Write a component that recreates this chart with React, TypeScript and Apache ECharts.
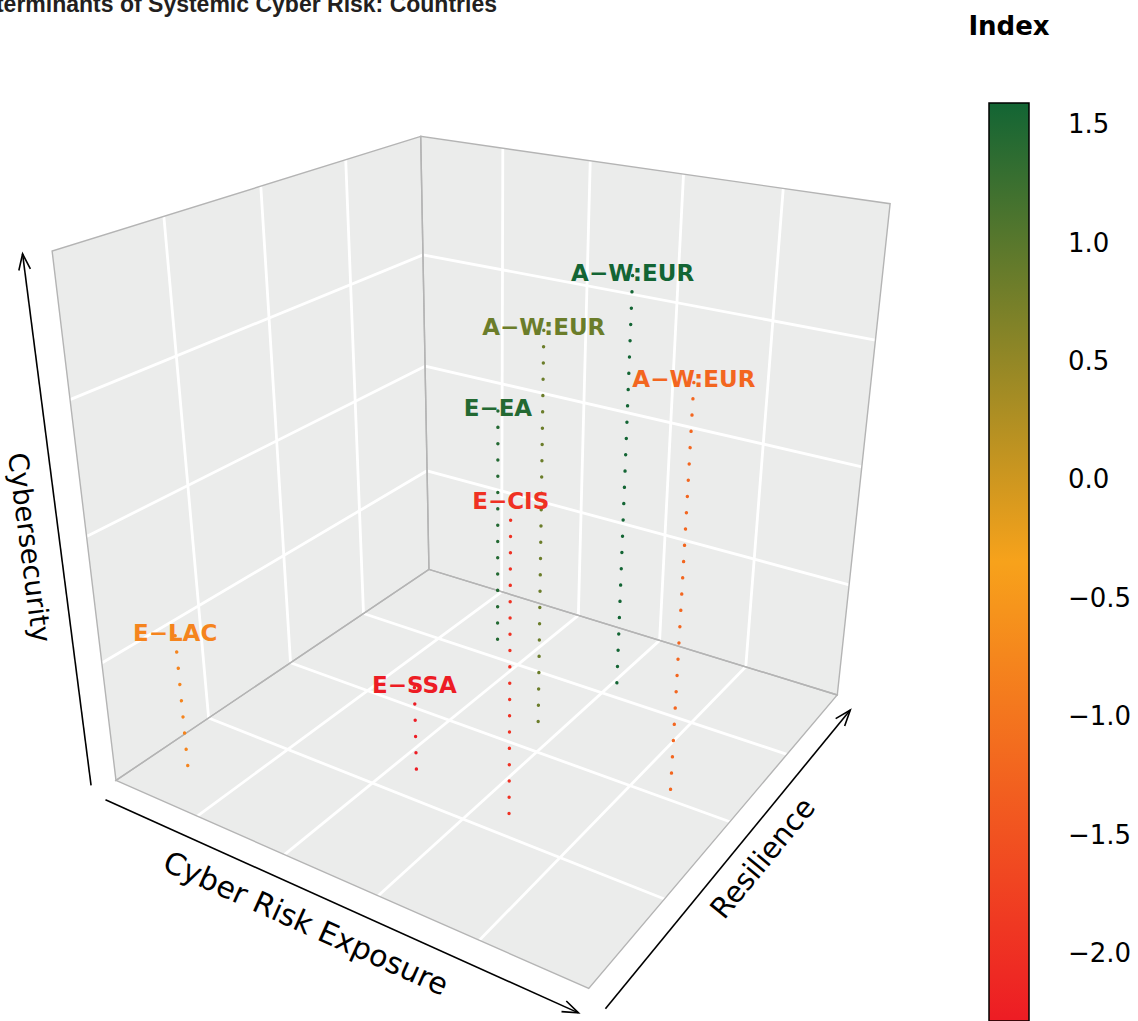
import React, { useEffect, useRef } from "react";
import * as echarts from "echarts";

const W = 1138;
const H = 1021;

// ---------------- data ----------------
const regionLabels = ["A−W:EUR", "A−W:EUR", "A−W:EUR", "E−EA", "E−CIS", "E−LAC", "E−SSA"];
const cyberRiskExposure = [0.53, 0.4, 1.21, -0.14, 0.71, -0.8, 0.16];
const resilience = [0.58, 0.14, -0.01, 0.52, -0.46, -0.79, -0.4];
const cybersecurity = [0.72, 0.62, 0.61, 0.1, 0.26, -0.44, -0.6];
const indexValues = [1.589, 0.84, -1.22, 1.45, -1.98, -0.79, -2.287];

const xRange = [-1, 1.5];
const yRange = [-1, 1];
const zRange = [-1, 1];
const xGrid = [-0.5, 0, 0.5, 1];
const yGrid = [-0.5, 0, 0.5];
const zGrid = [-0.5, 0, 0.5];
const colorbarTicks = [-2, -1.5, -1, -0.5, 0, 0.5, 1, 1.5];
const paletteStops: [number, string][] = [[0, "#ED1C24"], [0.5, "#F7A21B"], [1, "#136534"]];

// ---------------- perspective view (persp-like) ----------------
const VIEW = { theta: 33, phi: 25, d: 5.67, scale: 279.6, cx: 492.4, cy: 500 };

function project(x: number, y: number, z: number): number[] {
  const th = (VIEW.theta * Math.PI) / 180, ph = (VIEW.phi * Math.PI) / 180;
  const X = x * Math.cos(th) + y * Math.sin(th);
  const Zd = x * Math.sin(th) - y * Math.cos(th);
  const Y = z * Math.cos(ph) - Zd * Math.sin(ph);
  const Z = z * Math.sin(ph) + Zd * Math.cos(ph);
  const w = 1 - Z / VIEW.d;
  return [VIEW.cx + (VIEW.scale * X) / w, VIEW.cy - (VIEW.scale * Y) / w];
}

const nx = (x: number) => (2 * (x - xRange[0])) / (xRange[1] - xRange[0]) - 1;
const ny = (y: number) => (2 * (y - yRange[0])) / (yRange[1] - yRange[0]) - 1;
const nz = (z: number) => (2 * (z - zRange[0])) / (zRange[1] - zRange[0]) - 1;

const idxMin = Math.min(...indexValues);
const idxMax = Math.max(...indexValues);
function hex(h: string) { return [1, 3, 5].map((k) => parseInt(h.slice(k, k + 2), 16)); }
function colorAt(val: number) {
  const t = Math.max(0, Math.min(1, (val - idxMin) / (idxMax - idxMin)));
  for (let i = 0; i < paletteStops.length - 1; i++) {
    const [t0, c0] = paletteStops[i], [t1, c1] = paletteStops[i + 1];
    if (t <= t1) {
      const k = (t - t0) / (t1 - t0);
      const a = hex(c0), b = hex(c1);
      return `rgb(${a.map((v, j) => Math.round(v + (b[j] - v) * k)).join(",")})`;
    }
  }
  return paletteStops[paletteStops.length - 1][1];
}

const PANEL = "#EBECEB";
const EDGE = "#B4B4B4";

function arrowEls(a: number[], b: number[]) {
  const dx = b[0] - a[0], dy = b[1] - a[1], L = Math.hypot(dx, dy);
  const ux = dx / L, uy = dy / L, len = 17, ang = (20 * Math.PI) / 180;
  const head = [1, -1].map((s) => {
    const c = Math.cos(s * ang), sn = Math.sin(s * ang);
    const rx = ux * c - uy * sn, rY = ux * sn + uy * c;
    return [b[0] - len * rx, b[1] - len * rY];
  });
  return [
    { type: "line", shape: { x1: a[0], y1: a[1], x2: b[0], y2: b[1] }, style: { stroke: "#000", lineWidth: 1.6 } },
    { type: "polyline", shape: { points: [head[0], b, head[1]] }, style: { stroke: "#000", fill: "none", lineWidth: 1.6 } },
  ];
}
function axisTitle(a: number[], b: number[], text: string, f: number, d: number, side: number, reverse: boolean, size: number) {
  const dx = b[0] - a[0], dy = b[1] - a[1], L = Math.hypot(dx, dy);
  const ux = dx / L, uy = dy / L;
  const px = a[0] + dx * f + side * -uy * d, py = a[1] + dy * f + side * ux * d;
  const rot = reverse ? -Math.atan2(-uy, -ux) : -Math.atan2(uy, ux);
  return {
    type: "text", x: px, y: py, rotation: rot,
    style: { text, x: 0, y: 0, fill: "#000", font: `${size}px "DejaVu Sans"`, align: "center", verticalAlign: "middle", textAlign: "center", textVerticalAlign: "middle" },
  };
}

export default function App() {
  const ref = useRef<HTMLDivElement>(null);
  useEffect(() => {
    const chart = echarts.init(ref.current!, undefined, { renderer: "svg" });

    const frameItem = (params: any, api: any) => {
      const c = (x: number, y: number, z: number) => api.coord(project(x, y, z));
      const Lb = c(-1, -1, -1), Lt = c(-1, -1, 1), Bb = c(-1, 1, -1), Bt = c(-1, 1, 1);
      const Rb = c(1, 1, -1), Rt = c(1, 1, 1), Fb = c(1, -1, -1);
      const panels = [[Lb, Fb, Rb, Bb], [Lb, Bb, Bt, Lt], [Bb, Rb, Rt, Bt]];
      const ch: any[] = [];
      panels.forEach((p) => ch.push({ type: "polygon", shape: { points: p }, style: { fill: PANEL } }));
      const gl = (a: number[], b: number[]) =>
        ch.push({ type: "line", shape: { x1: a[0], y1: a[1], x2: b[0], y2: b[1] }, style: { stroke: "#fff", lineWidth: 2.8 } });
      xGrid.forEach((x) => { const X = nx(x); gl(c(X, -1, -1), c(X, 1, -1)); gl(c(X, 1, -1), c(X, 1, 1)); });
      yGrid.forEach((y) => { const Y = ny(y); gl(c(-1, Y, -1), c(1, Y, -1)); gl(c(-1, Y, -1), c(-1, Y, 1)); });
      zGrid.forEach((z) => { const Z = nz(z); gl(c(-1, -1, Z), c(-1, 1, Z)); gl(c(-1, 1, Z), c(1, 1, Z)); });
      panels.forEach((p) => ch.push({ type: "polygon", shape: { points: p }, style: { fill: "none", stroke: EDGE, lineWidth: 1.4 } }));
      const xa0 = c(-1, -1.06, -1.05), xa1 = c(1, -1.06, -1.05);
      const ya0 = c(1.06, -1, -1.05), ya1 = c(1.06, 1, -1.05);
      const za0 = c(-1.054, -1.072, -1), za1 = c(-1.054, -1.072, 1);
      ch.push(...arrowEls(xa0, xa1), ...arrowEls(ya0, ya1), ...arrowEls(za0, za1));
      ch.push(axisTitle(xa0, xa1, "Cyber Risk Exposure", 0.45, 30, 1, false, 30));
      ch.push(axisTitle(ya0, ya1, "Resilience", 0.56, 26, 1, false, 29));
      ch.push(axisTitle(za0, za1, "Cybersecurity", 0.455, 30, -1, true, 27.5));
      return { type: "group", children: ch };
    };

    const pointItem = (params: any, api: any) => {
      const x = nx(api.value(0)), y = ny(api.value(1)), z = nz(api.value(2));
      const col = colorAt(api.value(3));
      const top = api.coord(project(x, y, z));
      const bot = api.coord(project(x, y, -1));
      return {
        type: "group",
        children: [
          { type: "line", shape: { x1: top[0], y1: top[1], x2: bot[0], y2: bot[1] }, style: { stroke: col, lineWidth: 3.4, lineDash: [0.1, 16.2], lineCap: "round" } },
          {
            type: "text", x: top[0], y: top[1] - 3,
            style: { text: regionLabels[params.dataIndex], x: 0, y: 0, fill: col, font: 'bold 23px "DejaVu Sans"', align: "center", verticalAlign: "middle", textAlign: "center", textVerticalAlign: "middle" },
          },
        ],
      };
    };

    const colorbarItem = (params: any, api: any) => {
      const p0 = api.coord([0, api.value(2)]);
      const p1 = api.coord([1, api.value(1)]);
      const stops = paletteStops.map(([t, col]) => ({ offset: 1 - t, color: col })).reverse();
      return {
        type: "rect",
        shape: { x: p0[0], y: p0[1], width: p1[0] - p0[0], height: p1[1] - p0[1] },
        style: { fill: new echarts.graphic.LinearGradient(0, 0, 0, 1, stops), stroke: "#000", lineWidth: 1.5 },
      };
    };

    const fmt = (v: number) => (v < 0 ? "−" : "") + Math.abs(v).toFixed(1);

    chart.setOption({
      animation: false,
      grid: [
        { left: 0, top: 0, width: W, height: H, show: false },
        { left: 989, top: 103, width: 40, height: 918, show: false },
      ],
      xAxis: [
        { gridIndex: 0, type: "value", min: 0, max: W, show: false },
        { gridIndex: 1, type: "value", min: 0, max: 1, show: false },
      ],
      yAxis: [
        { gridIndex: 0, type: "value", min: 0, max: H, inverse: true, show: false },
        {
          gridIndex: 1, type: "value", min: idxMin, max: idxMax, position: "right",
          axisLine: { show: false }, splitLine: { show: false },
          axisTick: { show: true, inside: false, length: 19, lineStyle: { color: "#000", width: 1.5 }, customValues: colorbarTicks },
          axisLabel: { show: true, customValues: colorbarTicks, margin: 39, color: "#000", fontFamily: "DejaVu Sans", fontSize: 26, formatter: fmt },
        },
      ],
      graphic: [
        { type: "text", x: 497, y: 4, style: { text: "Determinants of Systemic Cyber Risk: Countries", fill: "#231F20", font: 'bold 23px "Liberation Sans"', align: "right", verticalAlign: "middle", textAlign: "right", textVerticalAlign: "middle" } },
        { type: "text", x: 1009, y: 26, style: { text: "Index", fill: "#000", font: 'bold 26px "DejaVu Sans"', align: "center", verticalAlign: "middle", textAlign: "center", textVerticalAlign: "middle" } },
      ],
      series: [
        { type: "custom", coordinateSystem: "cartesian2d", xAxisIndex: 0, yAxisIndex: 0, renderItem: frameItem, data: [[0, 0]], silent: true, z: 1 },
        {
          type: "custom", coordinateSystem: "cartesian2d", xAxisIndex: 0, yAxisIndex: 0, renderItem: pointItem, silent: true, z: 2,
          data: cyberRiskExposure.map((x, i) => [x, resilience[i], cybersecurity[i], indexValues[i]]),
        },
        { type: "custom", coordinateSystem: "cartesian2d", xAxisIndex: 1, yAxisIndex: 1, renderItem: colorbarItem, data: [[0, idxMin, idxMax]], silent: true, z: 2 },
      ],
    });
    return () => chart.dispose();
  }, []);
  return <div ref={ref} style={{ position: "absolute", left: 0, top: 0, width: W, height: H }} />;
}
